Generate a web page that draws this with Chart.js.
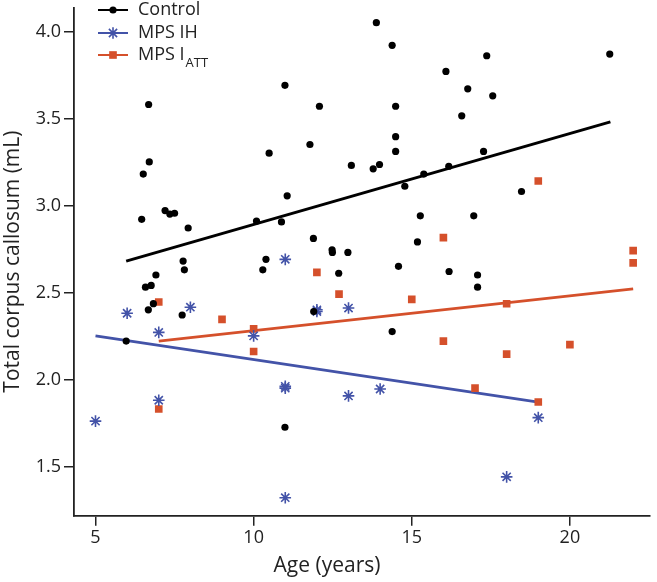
<!DOCTYPE html>
<html>
<head>
<meta charset="utf-8">
<script src="https://cdn.jsdelivr.net/npm/chart.js@4/dist/chart.umd.min.js"></script>
<style>
  html, body { margin: 0; padding: 0; background: #fff; }
  #wrap { width: 657px; height: 582px; }
</style>
</head>
<body>
<div id="wrap"><canvas id="c" width="657" height="582"></canvas></div>
<script>
// ---------- data ----------
const seriesNames = ['Control', 'MPS IH', 'MPS I'];
const attSubscript = 'ATT';

const controlAge = [6.68, 6.70, 6.51, 6.46, 7.20, 7.35, 7.50, 7.93, 7.77, 7.81, 6.91, 6.58, 6.76, 6.83, 6.67, 7.74, 5.97,
  10.49, 10.09, 10.88, 10.39, 10.29, 10.99, 11.06, 10.99, 11.90, 13.88, 14.38, 12.08, 14.49, 16.08, 17.37, 16.77, 17.56,
  16.58, 11.78, 14.49, 14.49, 17.27, 13.09, 13.78, 13.98, 16.17, 15.38, 14.78, 15.27, 16.96, 11.89, 12.48, 12.49, 12.98,
  15.18, 12.69, 14.58, 16.18, 17.08, 17.08, 14.38, 21.26, 18.47];
const controlVol = [3.58, 3.25, 3.18, 2.92, 2.97, 2.95, 2.955, 2.87, 2.68, 2.63, 2.60, 2.53, 2.54, 2.435, 2.40, 2.37, 2.22,
  3.30, 2.91, 2.905, 2.69, 2.63, 3.69, 3.055, 1.725, 2.39, 4.05, 3.92, 3.57, 3.57, 3.77, 3.86, 3.67, 3.63,
  3.515, 3.35, 3.395, 3.31, 3.31, 3.23, 3.21, 3.235, 3.225, 3.18, 3.11, 2.94, 2.94, 2.81, 2.745, 2.73, 2.73,
  2.79, 2.61, 2.65, 2.62, 2.60, 2.53, 2.275, 3.87, 3.08];

const ihAge = [5, 6, 7, 7, 8, 10, 11, 11, 11, 11, 12, 12, 13, 13, 14, 18, 19];
const ihVol = [1.76, 2.38, 2.27, 1.88, 2.415, 2.25, 2.69, 1.95, 1.96, 1.32, 2.39, 2.40, 2.41, 1.905, 1.945, 1.44, 1.78];

const attAge = [7, 7, 9, 10, 10, 12, 12.7, 15, 16, 16, 17, 18, 18, 19, 19, 20, 22, 22];
const attVol = [2.445, 1.83, 2.345, 2.29, 2.16, 2.615, 2.49, 2.46, 2.815, 2.22, 1.95, 2.435, 2.145, 3.14, 1.87, 2.20, 2.74, 2.67];

// fitted trend lines (end points)
const fitControlAge = [5.97, 21.28];
const fitControlVol = [2.68, 3.48];
const fitIhAge = [5.0, 19.0];
const fitIhVol = [2.25, 1.87];
const fitAttAge = [7.0, 22.0];
const fitAttVol = [2.22, 2.52];

const xTicks = [5, 10, 15, 20];
const yTicks = [1.5, 2.0, 2.5, 3.0, 3.5, 4.0];
const xTitle = 'Age (years)';
const yTitle = 'Total corpus callosum (mL)';

// ---------- styling ----------
const BLACK = '#000000';
const BLUE = '#4353A8';
const RED = '#D5502B';
const TEXT = '#222222';
const FONT = "'Open Sans', 'Noto Sans', sans-serif";

const pts = (xs, ys) => xs.map((x, i) => ({ x: x, y: ys[i] }));

const styles = [
  { color: BLACK, pointStyle: 'circle', radius: 3.6, borderWidth: 0 },
  { color: BLUE, pointStyle: 'star', radius: 5.8, borderWidth: 1.6 },
  { color: RED, pointStyle: 'rect', radius: 5.4, borderWidth: 0 }
];

const customLegend = {
  id: 'customLegend',
  afterDraw(chart) {
    const ctx = chart.ctx;
    const left = chart.chartArea.left + 24;
    const rows = [10, 33, 55];
    ctx.save();
    seriesNames.forEach((name, i) => {
      const st = styles[i];
      const y = rows[i];
      ctx.strokeStyle = st.color;
      ctx.lineWidth = 2;
      ctx.beginPath();
      ctx.moveTo(left, y);
      ctx.lineTo(left + 30, y);
      ctx.stroke();
      ctx.fillStyle = st.color;
      ctx.strokeStyle = st.color;
      ctx.lineWidth = st.borderWidth;
      const r = st.radius;
      if (st.pointStyle === 'circle') { ctx.beginPath(); ctx.arc(left + 15, y, r, 0, Math.PI * 2); ctx.fill(); }
      else if (st.pointStyle === 'rect') { const s = r * Math.SQRT1_2; ctx.fillRect(left + 15 - s, y - s, 2 * s, 2 * s); }
      else {
        Chart.helpers.drawPoint(ctx, { pointStyle: st.pointStyle, radius: r, rotation: 0, borderWidth: st.borderWidth }, left + 15, y);
      }
      ctx.fillStyle = TEXT;
      ctx.font = '18px ' + FONT;
      ctx.textBaseline = 'middle';
      ctx.textAlign = 'left';
      ctx.fillText(name, left + 40, y);
      if (i === 2) {
        const w = ctx.measureText(name).width;
        ctx.font = '13px ' + FONT;
        ctx.fillText(attSubscript, left + 40 + w + 1, y + 8);
      }
    });
    ctx.restore();
  }
};

const lineDs = (label, xs, ys, color, width) => ({
  type: 'line', label: label, data: pts(xs, ys), borderColor: color, borderWidth: width,
  pointRadius: 0, fill: false, showLine: true, tension: 0, order: 5
});

const scatterDs = (label, xs, ys, st) => ({
  type: 'scatter', label: label, data: pts(xs, ys),
  pointStyle: st.pointStyle, pointRadius: st.radius, pointBackgroundColor: st.color,
  pointBorderColor: st.color, pointBorderWidth: st.borderWidth, showLine: false, order: 1
});

new Chart(document.getElementById('c'), {
  type: 'scatter',
  data: {
    datasets: [
      scatterDs(seriesNames[0], controlAge, controlVol, styles[0]),
      scatterDs(seriesNames[1], ihAge, ihVol, styles[1]),
      scatterDs(seriesNames[2] + attSubscript, attAge, attVol, styles[2]),
      lineDs('fit control', fitControlAge, fitControlVol, BLACK, 3),
      lineDs('fit IH', fitIhAge, fitIhVol, BLUE, 2.8),
      lineDs('fit ATT', fitAttAge, fitAttVol, RED, 2.8)
    ]
  },
  options: {
    responsive: false,
    devicePixelRatio: 1,
    animation: false,
    events: [],
    layout: { padding: { top: 3, right: 3, left: 0, bottom: 0 } },
    plugins: {
      legend: { display: false },
      tooltip: { enabled: false },
      title: {
        display: true, position: 'bottom', text: xTitle, color: TEXT,
        font: { family: FONT, size: 21, weight: 'normal' },
        padding: { top: 0, bottom: 3 }
      }
    },
    scales: {
      x: {
        type: 'linear', min: 4.32, max: 22.52,
        afterBuildTicks: s => { s.ticks = xTicks.map(v => ({ value: v })); },
        afterFit: s => { s.height = 38; s.paddingLeft = 0; s.paddingRight = 0; },
        grid: { drawOnChartArea: false, drawTicks: true, tickLength: 10, color: TEXT, lineWidth: 1.5 },
        border: { display: true, color: TEXT, width: 1.8 },
        ticks: { color: TEXT, font: { family: FONT, size: 18 }, padding: 1, maxRotation: 0,
          callback: v => String(v) }
      },
      y: {
        type: 'linear', min: 1.216, max: 4.138,
        afterBuildTicks: s => { s.ticks = yTicks.map(v => ({ value: v })); },
        afterFit: s => { s.width = 74; s.paddingTop = 0; s.paddingBottom = 0; },
        grid: { drawOnChartArea: false, drawTicks: true, tickLength: 10, color: TEXT, lineWidth: 1.5 },
        border: { display: true, color: TEXT, width: 1.8 },
        ticks: { color: TEXT, font: { family: FONT, size: 18 }, padding: 3,
          callback: v => Number(v).toFixed(1) },
        title: { display: true, text: yTitle, color: TEXT, padding: { top: 0, bottom: 0 },
          font: { family: FONT, size: 21, weight: 'normal' } }
      }
    }
  },
  plugins: [customLegend]
});
</script>
</body>
</html>
